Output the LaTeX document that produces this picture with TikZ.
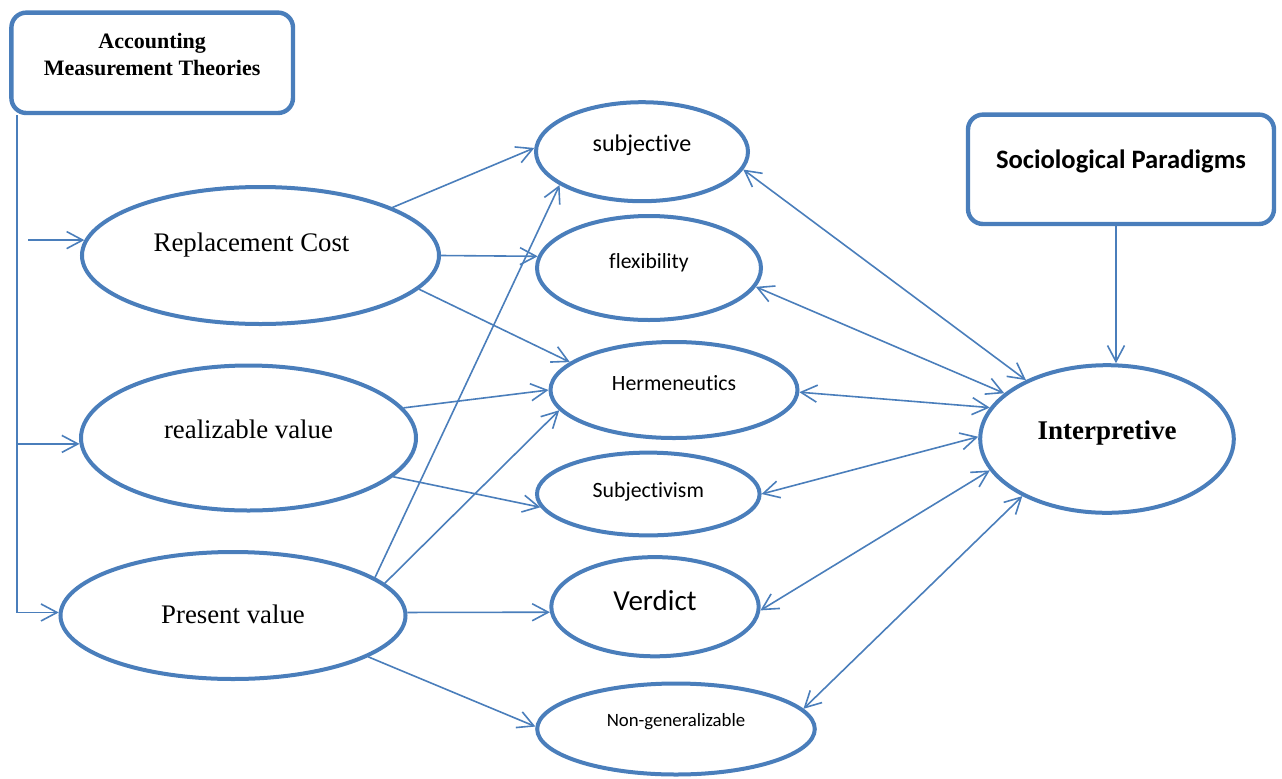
\documentclass[tikz,border=0pt]{standalone}
\usepackage{fontspec}
\setmainfont{Liberation Serif}
\newfontfamily\calibri[Ligatures=NoCommon]{Carlito}
\usetikzlibrary{arrows.meta,shapes.geometric}
\definecolor{wordblue}{RGB}{74,126,187}
\tikzset{
  oval/.style={ellipse, draw=wordblue, line width=2pt, inner sep=0pt, text height=0pt, text depth=0pt},
  theorybox/.style={rectangle, rounded corners=7.5pt, draw=wordblue, line width=2.2pt, inner sep=0pt, align=center},
  conn/.style={draw=wordblue, line width=0.8pt, -{Straight Barb[length=8pt,width=8.5pt]}},
  twoway/.style={conn, {Straight Barb[length=8pt,width=8.5pt]}-{Straight Barb[length=8pt,width=8.5pt]}},
  measure/.style={font=\fontsize{13.4}{16}\selectfont},
}

\begin{document}
\begin{tikzpicture}[x=0.5pt,y=-0.5pt]
		%%%%% START %%%%%
		\useasboundingbox (0,0) rectangle (1282,778);
		
		% the two frames
		\node[theorybox, minimum width=140.8pt, minimum height=50.2pt, text height=12.2pt, text depth=0pt, font={\bfseries\fontsize{11}{13.3}\selectfont}] (acc) at (152.2,62.8) {Accounting\\Measurement Theories};
		\node[theorybox, minimum width=153pt, minimum height=54.7pt, text height=0pt, text depth=1.3pt, font={\calibri\bfseries\fontsize{13.3}{16}\selectfont}] (soc) at (1121,169.3) {Sociological Paradigms};
		
		% measurement bases
		\node[oval, measure, minimum width=178.5pt, minimum height=68.5pt, text depth=4.5pt] (rc) at (260.5,255.5) {Replacement Cost\kern9pt};
		\node[oval, measure, minimum width=167.5pt, minimum height=72.5pt] (rv) at (248.5,438) {realizable value};
		\node[oval, measure, minimum width=172.5pt, minimum height=63.5pt, text height=7.5pt] (pv) at (233,615.5) {Present value};
		
		% features
		\node[oval, minimum width=106pt, minimum height=49.5pt, font={\calibri\fontsize{12}{14}\selectfont}] (subj) at (642,151.7) {subjective};
		\node[oval, minimum width=112pt, minimum height=52pt, font={\calibri\fontsize{10.8}{13}\selectfont}] (flex) at (649,268) {flexibility};
		\node[oval, minimum width=123.5pt, minimum height=48pt, font={\calibri\fontsize{10.9}{13}\selectfont}] (herm) at (674,390) {Hermeneutics};
		\node[oval, minimum width=111.3pt, minimum height=41.4pt, text height=3.3pt, font={\calibri\fontsize{10.9}{13}\selectfont}] (sism) at (648.3,494) {Subjectivism};
		\node[oval, minimum width=103.7pt, minimum height=49.6pt, text height=3.3pt, font={\calibri\fontsize{14.5}{17}\selectfont}] (verd) at (655,606.7) {Verdict};
		\node[oval, minimum width=138.8pt, minimum height=45.5pt, text depth=2.3pt, font={\calibri\fontsize{9.4}{11}\selectfont}] (ngen) at (676,729) {Non-generalizable};
		
		% paradigm
		\node[oval, minimum width=126.8pt, minimum height=73.8pt, font={\bfseries\fontsize{13.5}{16}\selectfont}] (int) at (1107,439) {Interpretive};
		
		% left spine
		\coordinate (spine) at ([xshift=4pt]acc.south west);
		\coordinate (rcin) at ([xshift=5.5pt]spine |- rc.175);
		\draw[conn] (spine) |- (pv.179);
		\draw[conn] (spine |- rv.182) -- (rv.182);
		\draw[conn] (rcin) -- (rc.175);
		
		% bases to features
		\draw[conn] (rc.20) -- (subj.178);
		\draw[conn] (rc.0) -- (flex.174);
		\draw[conn] (rc.-12) -- (herm.165);
		\draw[conn] (rv.11) -- (herm.180);
		\draw[conn] (rv.-15) -- (sism.-173);
		\draw[conn] (pv.15) -- (subj.-158);
		\draw[conn] (pv.12) -- (herm.-170);
		\draw[conn] (pv.1) -- (verd.183);
		\draw[conn] (pv.-17) -- (ngen.179);
		
		% features and paradigm
		\draw[twoway] (subj.-10) -- (int.144);
		\draw[twoway] (flex.-10) -- (int.156);
		\draw[twoway] (herm.-1) -- (int.165);
		\draw[twoway] (sism.0) -- (int.179);
		\draw[twoway] (verd.-2) -- (int.-165);
		\draw[twoway] (ngen.9) -- (int.-146);
		
		\draw[conn] ([xshift=-2.5pt]soc.south) -- ([xshift=-2.5pt]soc.south |- int.north);
		
		%%%%% END %%%%%
\end{tikzpicture}
\end{document}
